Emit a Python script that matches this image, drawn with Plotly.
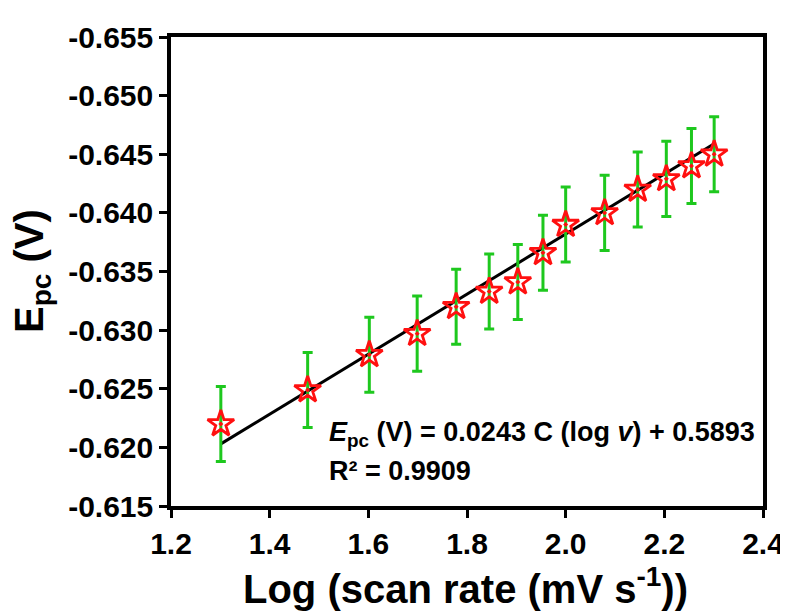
import plotly.graph_objects as go

# Data
log_scan_rate = [1.301, 1.477, 1.602, 1.699, 1.778, 1.845, 1.903, 1.954, 2.000, 2.079, 2.146, 2.204, 2.255, 2.301]
epc_values = [-0.6220, -0.6249, -0.6279, -0.6297, -0.6320, -0.6333, -0.6341, -0.6366, -0.6390, -0.6400, -0.6420, -0.6429, -0.6440, -0.6450]
epc_errors = [0.0032, 0.0032, 0.0032, 0.0032, 0.0032, 0.0032, 0.0032, 0.0032, 0.0032, 0.0032, 0.0032, 0.0032, 0.0032, 0.0032]
fit_x = [1.301, 2.301]
fit_y = [-0.6203, -0.6459]
x_ticks = [1.2, 1.4, 1.6, 1.8, 2.0, 2.2, 2.4]
x_tick_labels = ["1.2", "1.4", "1.6", "1.8", "2.0", "2.2", "2.4"]
y_ticks = [-0.655, -0.650, -0.645, -0.640, -0.635, -0.630, -0.625, -0.620, -0.615]
y_tick_labels = ["-0.655", "-0.650", "-0.645", "-0.640", "-0.635", "-0.630", "-0.625", "-0.620", "-0.615"]

FONT = "Liberation Sans, Arial, sans-serif"

fig = go.Figure()
fig.add_trace(go.Scatter(
    x=fit_x, y=fit_y, mode="lines",
    line=dict(color="black", width=3), showlegend=False, hoverinfo="skip"))
fig.add_trace(go.Scatter(
    x=log_scan_rate, y=epc_values, mode="markers",
    marker=dict(symbol="star-open-dot", size=20, color="#ff1010",
                line=dict(color="#ff1010", width=2.8)),
    error_y=dict(type="data", array=epc_errors, visible=True,
                 color="#1ec81e", thickness=3, width=5),
    showlegend=False))

axis_common = dict(
    showline=True, linecolor="black", linewidth=3.5, mirror=True,
    ticks="outside", ticklen=8, tickwidth=3, tickcolor="black",
    showgrid=False, zeroline=False,
    tickfont=dict(family=FONT, size=30, color="black", weight="bold"),
)

fig.update_xaxes(range=[1.2, 2.4], tickvals=x_ticks, ticktext=x_tick_labels, **axis_common)
fig.update_yaxes(range=[-0.615, -0.655], tickvals=y_ticks, ticktext=y_tick_labels, **axis_common)

# plot area in window pixels: x 171..763, y 27..506
def px(xp):
    return (xp - 171) / 592

def py(yp):
    return (506 - yp) / 479

fig.add_annotation(
    xref="paper", yref="paper", x=px(465), y=py(588), xanchor="center", yanchor="middle",
    text="Log (scan rate (mV s<sup>-1</sup>))", showarrow=False,
    font=dict(family=FONT, size=40, color="black", weight="bold"))
fig.add_annotation(
    xref="paper", yref="paper", x=px(32), y=py(266), xanchor="center", yanchor="middle",
    text="E<sub>pc</sub> (V)", textangle=-90, showarrow=False,
    font=dict(family=FONT, size=40, color="black", weight="bold"))
fig.add_annotation(
    xref="paper", yref="paper", x=px(327), y=py(432),
    xanchor="left", yanchor="middle",
    text="<i>E</i><sub>pc</sub> (V) = 0.0243 C (log <i>v</i>) + 0.5893", showarrow=False,
    font=dict(family=FONT, size=27, color="black", weight="bold"))
fig.add_annotation(
    xref="paper", yref="paper", x=px(327), y=py(470),
    xanchor="left", yanchor="middle",
    text="R² = 0.9909", showarrow=False,
    font=dict(family=FONT, size=27, color="black", weight="bold"))

# page body adds an 8px offset, so margins are reduced accordingly
fig.update_layout(
    width=788, height=611,
    margin=dict(l=163, r=33, t=19, b=113),
    paper_bgcolor="white", plot_bgcolor="white",
    font=dict(family=FONT, color="black"),
)

fig.write_html("out.html")
